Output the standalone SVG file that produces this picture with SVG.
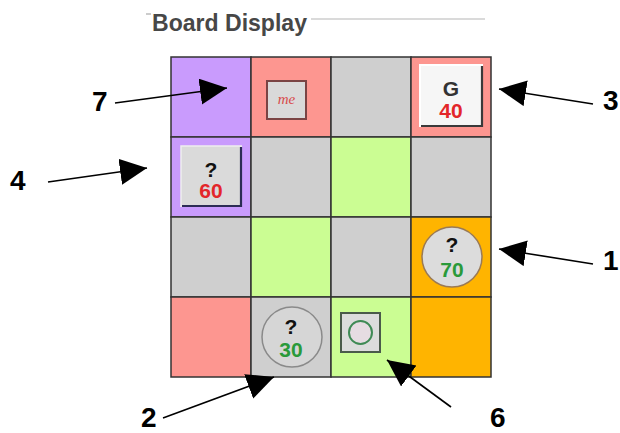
<svg xmlns="http://www.w3.org/2000/svg" width="620" height="433" viewBox="0 0 620 433">
<defs>
<marker id="ah" markerUnits="userSpaceOnUse" markerWidth="30" markerHeight="28" refX="27" refY="13" orient="auto">
<path d="M0,0 L27,13 L0,26 Z" fill="#000"/>
</marker>
<style>
.cell{stroke:#333;stroke-width:1.5}
.pu{fill:#c99bfd}.sa{fill:#fd9690}.gr{fill:#cfcfcf}.li{fill:#cbfd93}.or{fill:#ffb400}
.lbl{font-family:"Liberation Sans",Arial,sans-serif;font-weight:bold;font-size:28px;fill:#000}
.pc{font-family:"Liberation Sans",Arial,sans-serif;font-weight:bold;font-size:21px;text-anchor:middle}
.arr{stroke:#000;stroke-width:1.6;fill:none;marker-end:url(#ah)}
</style>
</defs>
<rect width="620" height="433" fill="#fff"/>
<g id="title">
<line x1="146" y1="14" x2="151" y2="14" stroke="#999" stroke-width="1"/>
<line x1="311" y1="19" x2="485" y2="19" stroke="#b5b5b5" stroke-width="1.2"/>
<text x="152" y="31" font-family="Liberation Sans,Arial,sans-serif" font-weight="bold" font-size="24" fill="#474747" textLength="155" lengthAdjust="spacingAndGlyphs">Board Display</text>
</g>
<g id="board">
<rect class="cell pu" x="171" y="57" width="80" height="80"/>
<rect class="cell sa" x="251" y="57" width="80" height="80"/>
<rect class="cell gr" x="331" y="57" width="80" height="80"/>
<rect class="cell sa" x="411" y="57" width="80" height="80"/>
<rect class="cell pu" x="171" y="137" width="80" height="80"/>
<rect class="cell gr" x="251" y="137" width="80" height="80"/>
<rect class="cell li" x="331" y="137" width="80" height="80"/>
<rect class="cell gr" x="411" y="137" width="80" height="80"/>
<rect class="cell gr" x="171" y="217" width="80" height="80"/>
<rect class="cell li" x="251" y="217" width="80" height="80"/>
<rect class="cell gr" x="331" y="217" width="80" height="80"/>
<rect class="cell or" x="411" y="217" width="80" height="80"/>
<rect class="cell sa" x="171" y="297" width="80" height="80"/>
<rect class="cell gr" x="251" y="297" width="80" height="80"/>
<rect class="cell li" x="331" y="297" width="80" height="80"/>
<rect class="cell or" x="411" y="297" width="80" height="80"/>
</g>
<g id="piece-me">
<rect x="267" y="81" width="39" height="38" fill="#d9d9d9" stroke="#7a4444" stroke-width="2"/>
<text x="286.5" y="104" text-anchor="middle" font-family="Liberation Serif,serif" font-style="italic" font-size="15" fill="#d84a4a">me</text>
</g>
<g id="piece-g40">
<rect x="420" y="65" width="63" height="62" fill="#f6f6f6"/>
<path d="M420,127 L420,65 L483,65" stroke="#fff" stroke-width="2" fill="none"/>
<path d="M421,126 L482,126 L482,66" stroke="#3a3a3a" stroke-width="2.2" fill="none"/>
<text class="pc" x="451" y="96" fill="#333">G</text>
<text class="pc" x="451" y="118" fill="#e3262a">40</text>
</g>
<g id="piece-q60">
<rect x="181" y="146" width="61" height="61" fill="#dadada"/>
<path d="M181,207 L181,146 L242,146" stroke="#eee" stroke-width="1.5" fill="none"/>
<path d="M182,206 L241,206 L241,147" stroke="#2c2c55" stroke-width="2.2" fill="none"/>
<text class="pc" x="211" y="177" fill="#111">?</text>
<text class="pc" x="211" y="198" fill="#e3262a">60</text>
</g>
<g id="piece-q70">
<circle cx="452" cy="257" r="30" fill="#dcdcdc" stroke="#9a7a55" stroke-width="1.5"/>
<text class="pc" x="452" y="252" fill="#111">?</text>
<text class="pc" x="452" y="277" fill="#2a9a3a">70</text>
</g>
<g id="piece-q30">
<circle cx="292" cy="337" r="30" fill="#d6d6d6" stroke="#8a8a8a" stroke-width="1.5"/>
<text class="pc" x="291" y="334" fill="#111">?</text>
<text class="pc" x="291" y="357" fill="#2a9a3a">30</text>
</g>
<g id="piece-o">
<rect x="341" y="313" width="39" height="39" fill="#dcdcdc" stroke="#4a5a4a" stroke-width="2"/>
<circle cx="360.5" cy="332.5" r="11.5" fill="#e6dce2" stroke="#3f8a55" stroke-width="2"/>
</g>
<g id="connectors">
<line class="arr" x1="115" y1="103" x2="227" y2="88"/>
<line class="arr" x1="48" y1="182" x2="147" y2="168"/>
<line class="arr" x1="593" y1="104" x2="499" y2="89"/>
<line class="arr" x1="593" y1="264" x2="499" y2="249"/>
<line class="arr" x1="163" y1="418" x2="274" y2="377"/>
<line class="arr" x1="451" y1="407" x2="387" y2="360"/>
</g>
<g id="labels">
<text class="lbl" x="141" y="427">2</text>
<text class="lbl" x="92" y="111">7</text>
<text class="lbl" x="10" y="190">4</text>
<text class="lbl" x="603" y="110">3</text>
<text class="lbl" x="603" y="270">1</text>
<text class="lbl" x="490" y="427">6</text>
</g>
</svg>
